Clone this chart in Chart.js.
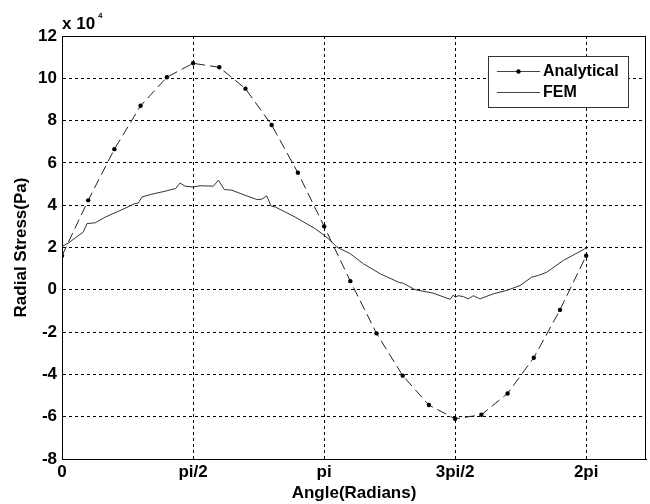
<!DOCTYPE html>
<html>
<head>
<meta charset="utf-8">
<script src="https://cdn.jsdelivr.net/npm/chart.js@4"></script>
<style>
  html, body { margin: 0; padding: 0; background: #fff; }
  #wrap { width: 650px; height: 504px; }
</style>
</head>
<body>
<div id="wrap"><canvas id="c"></canvas></div>
<script>
// Angles (rad) and analytical radial stress (x 10^4 Pa)
const anaAngle = [0, 0.314, 0.628, 0.942, 1.257, 1.571, 1.885, 2.199, 2.513, 2.827, 3.142,
                  3.456, 3.770, 4.084, 4.398, 4.712, 5.027, 5.341, 5.655, 5.969, 6.283];
const anaStress = [1.61, 4.23, 6.65, 8.70, 10.05, 10.71, 10.52, 9.51, 7.79, 5.54, 3.0,
                   0.41, -2.06, -4.06, -5.45, -6.1, -5.91, -4.9, -3.21, -0.95, 1.61];

// FEM result
const femAngle = [0, 0.076, 0.255, 0.30, 0.40, 0.52, 0.72, 0.875, 0.915, 0.96, 1.076, 1.235,
                  1.363, 1.415, 1.475, 1.574, 1.655, 1.814, 1.875, 1.946, 2.035, 2.194, 2.334,
                  2.394, 2.454, 2.506, 2.554, 2.794, 3.034, 3.145, 3.213, 3.294, 3.453, 3.613,
                  3.813, 4.033, 4.09, 4.23, 4.45, 4.652, 4.69, 4.71, 4.75, 4.81, 4.87, 4.93,
                  5.01, 5.17, 5.33, 5.49, 5.63, 5.71, 5.81, 6.01, 6.16, 6.29];
const femStress = [2.05, 2.21, 2.73, 3.13, 3.17, 3.44, 3.79, 4.08, 4.10, 4.39, 4.52, 4.66,
                   4.79, 5.05, 4.90, 4.86, 4.92, 4.90, 5.18, 4.74, 4.71, 4.47, 4.27,
                   4.28, 4.44, 3.96, 3.92, 3.44, 2.89, 2.57, 2.34, 2.02, 1.71, 1.23,
                   0.76, 0.36, 0.31, 0.01, -0.16, -0.45, -0.25, -0.35, -0.28, -0.32, -0.43, -0.28,
                   -0.43, -0.19, -0.03, 0.2, 0.6, 0.68, 0.83, 1.39, 1.71, 1.99];

// x tick positions and their labels
const xTickVals = [0, 1.5708, 3.1416, 4.7124, 6.2832];
const xTickLabels = ['0', 'pi/2', 'pi', '3pi/2', '2pi'];

const seriesNames = ['Analytical', 'FEM'];

const FONT = 'Liberation Sans, Arial, sans-serif';

// Box around the plot, "x 10^4" and the legend
const extras = {
  id: 'extras',
  afterDraw(chart) {
    const {ctx, chartArea: a} = chart;
    ctx.save();
    ctx.strokeStyle = '#000';
    ctx.lineWidth = 1;
    ctx.setLineDash([]);
    ctx.strokeRect(a.left + 0.5, a.top + 0.5, a.right - a.left - 1, a.bottom - a.top);

    // exponent label
    ctx.fillStyle = '#000';
    ctx.textBaseline = 'alphabetic';
    ctx.textAlign = 'left';
    ctx.font = 'bold 17px ' + FONT;
    ctx.fillText('x 10', a.left, a.top - 7);
    const w = ctx.measureText('x 10').width;
    ctx.font = 'bold 8px ' + FONT;
    ctx.fillText('4', a.left + w + 3, a.top - 18);

    // legend
    const bx = 488, by = 56, bw = 140, bh = 51;
    ctx.fillStyle = '#fff';
    ctx.fillRect(bx, by, bw, bh);
    ctx.strokeStyle = '#333';
    ctx.strokeRect(bx + 0.5, by + 0.5, bw, bh);
    const rows = [71, 92];
    ctx.font = 'bold 16px ' + FONT;
    ctx.textBaseline = 'middle';
    rows.forEach((ry, i) => {
      ctx.strokeStyle = '#444';
      ctx.beginPath();
      ctx.moveTo(497, ry + 0.5);
      ctx.lineTo(540, ry + 0.5);
      ctx.stroke();
      if (i === 0) {
        ctx.fillStyle = '#000';
        ctx.beginPath();
        ctx.arc(518.5, ry + 0.5, 2.2, 0, Math.PI * 2);
        ctx.fill();
      }
      ctx.fillStyle = '#000';
      ctx.fillText(seriesNames[i], 543, ry + 1);
    });
    ctx.restore();
  }
};

new Chart(document.getElementById('c'), {
  type: 'scatter',
  data: {
    datasets: [
      {
        label: seriesNames[0],
        data: anaAngle.map((x, i) => ({x: x, y: anaStress[i]})),
        showLine: true,
        borderColor: '#222',
        borderWidth: 1,
        borderDash: [10, 5],
        pointRadius: 2.2,
        pointBackgroundColor: '#000',
        pointBorderWidth: 0,
        tension: 0
      },
      {
        label: seriesNames[1],
        data: femAngle.map((x, i) => ({x: x, y: femStress[i]})),
        showLine: true,
        borderColor: '#333',
        borderWidth: 1,
        pointRadius: 0,
        tension: 0
      }
    ]
  },
  options: {
    responsive: true,
    maintainAspectRatio: false,
    animation: false,
    layout: { padding: { top: 36, right: 2, left: 0, bottom: 0 } },
    plugins: { legend: { display: false }, tooltip: { enabled: false } },
    scales: {
      x: {
        type: 'linear',
        min: 0,
        max: 7,
        afterBuildTicks: (scale) => { scale.ticks = xTickVals.map(v => ({value: v})); },
        afterFit: (scale) => { scale.height = 45; },
        ticks: {
          callback: (v, i) => xTickLabels[i],
          color: '#000',
          font: { family: FONT, size: 17, weight: 'bold' },
          padding: 3,
          maxRotation: 0
        },
        grid: { color: '#000', lineWidth: 1, drawTicks: false },
        border: { display: true, color: '#000', dash: [3, 3] },
        title: {
          display: true,
          text: 'Angle(Radians)',
          color: '#000',
          font: { family: FONT, size: 17, weight: 'bold' },
          padding: { top: 0, bottom: 0 }
        }
      },
      y: {
        min: -8,
        max: 12,
        afterFit: (scale) => { scale.width = 62; },
        ticks: {
          stepSize: 2,
          color: '#000',
          font: { family: FONT, size: 17, weight: 'bold' },
          padding: 5
        },
        grid: { color: '#000', lineWidth: 1, drawTicks: false },
        border: { display: true, color: '#000', dash: [3, 3] },
        title: {
          display: true,
          text: 'Radial Stress(Pa)',
          color: '#000',
          font: { family: FONT, size: 17, weight: 'bold' },
          padding: { top: 11, bottom: 0 }
        }
      }
    }
  },
  plugins: [extras]
});
</script>
</body>
</html>
